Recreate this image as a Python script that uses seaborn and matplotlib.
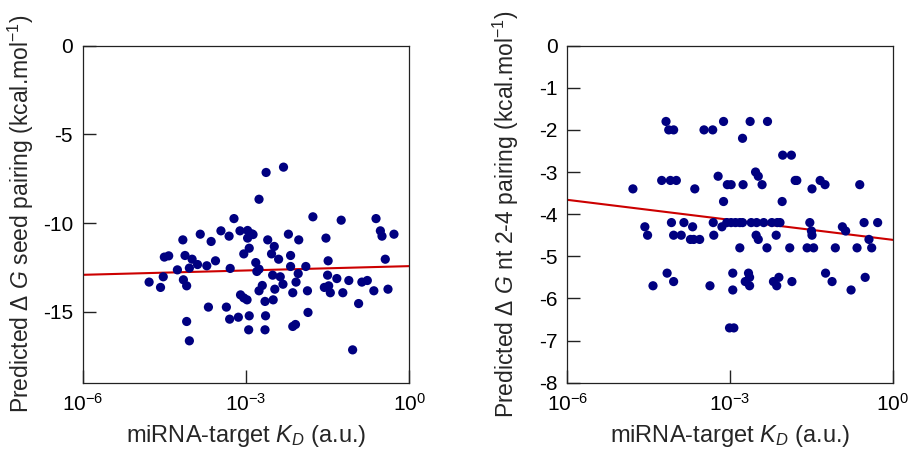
import numpy as np
import pandas as pd
import matplotlib
matplotlib.use("Agg")
import matplotlib.pyplot as plt
import seaborn as sns
from matplotlib.ticker import FixedLocator, FixedFormatter, NullLocator

# ---- data (log10 KD, predicted dG) ----
seed_logkd = [-4.78, -4.57, -4.52, -4.50, -4.42, -4.26, -4.16, -4.15, -4.12, -4.09,
              -4.09, -4.04, -4.04, -3.99, -3.89, -3.84, -3.72, -3.69, -3.64, -3.56,
              -3.46, -3.36, -3.31, -3.30, -3.29, -3.22, -3.14, -3.11, -3.10, -3.04,
              -3.04, -2.98, -2.97, -2.97, -2.94, -2.94, -2.95, -2.89, -2.87, -2.82,
              -2.80, -2.76, -2.76, -2.76, -2.70, -2.65, -2.65, -2.64, -2.63, -2.60,
              -2.53, -2.51, -2.50, -2.48, -2.47, -2.40, -2.37, -2.32, -2.31, -2.22,
              -2.18, -2.18, -2.14, -2.14, -2.09, -2.08, -2.04, -2.03, -1.90, -1.87,
              -1.86, -1.77, -1.56, -1.53, -1.50, -1.49, -1.48, -1.45, -1.33, -1.25,
              -1.22, -1.11, -1.04, -0.93, -0.87, -0.77, -0.65, -0.61, -0.53, -0.50,
              -0.44, -0.39, -0.28]
seed_dg = [-13.33, -13.63, -13.03, -11.92, -11.85, -12.64, -10.95, -13.20, -11.83, -13.54,
           -15.55, -16.64, -12.54, -12.04, -12.34, -10.63, -12.41, -14.74, -11.04, -12.13,
           -10.44, -14.74, -10.74, -15.42, -12.56, -9.75, -15.31, -10.44, -14.05, -14.22,
           -11.74, -14.33, -10.42, -10.85, -15.23, -11.42, -16.02, -10.61, -10.65, -12.23,
           -12.73, -8.66, -12.60, -13.82, -13.52, -14.42, -16.02, -15.23, -7.15, -10.95,
           -11.74, -12.94, -14.33, -11.32, -13.73, -12.04, -13.03, -13.45, -6.85, -10.63,
           -12.45, -11.83, -13.93, -15.83, -15.72, -13.33, -12.85, -10.95, -12.45, -13.82,
           -15.04, -9.65, -13.63, -10.85, -12.94, -12.13, -13.54, -13.93, -13.13, -9.84,
           -13.93, -13.24, -17.15, -14.54, -13.33, -13.24, -13.82, -9.75, -10.44, -10.74,
           -12.04, -13.73, -10.63]

nt_logkd = [-4.79, -4.57, -4.52, -4.42, -4.26, -4.18, -4.16, -4.13, -4.10, -4.08,
            -4.04, -4.04, -4.04, -3.99, -3.90, -3.85, -3.73, -3.69, -3.65, -3.67,
            -3.56, -3.48, -3.37, -3.32, -3.31, -3.30, -3.22, -3.15, -3.12, -3.12,
            -3.06, -3.05, -2.98, -2.98, -3.01, -2.93, -2.95, -2.95, -2.90, -2.82,
            -2.82, -2.77, -2.77, -2.76, -2.72, -2.66, -2.64, -2.64, -2.63, -2.61,
            -2.53, -2.52, -2.51, -2.48, -2.48, -2.41, -2.38, -2.32, -2.31, -2.23,
            -2.20, -2.15, -2.14, -2.13, -2.10, -2.08, -2.04, -2.03, -1.90, -1.87,
            -1.86, -1.80, -1.77, -1.58, -1.53, -1.50, -1.49, -1.49, -1.46, -1.34,
            -1.25, -1.24, -1.12, -1.06, -0.93, -0.87, -0.77, -0.66, -0.61, -0.53,
            -0.51, -0.44, -0.39, -0.28]
nt_dg = [-3.4, -4.3, -4.5, -5.7, -3.2, -1.8, -5.4, -2.0, -3.2, -4.2,
         -2.0, -5.6, -4.5, -3.2, -4.5, -4.2, -4.6, -4.3, -3.4, -4.6,
         -4.6, -2.0, -5.7, -2.0, -4.2, -4.5, -3.1, -4.3, -1.8, -3.7,
         -4.2, -3.3, -3.3, -4.2, -6.7, -6.7, -5.8, -5.4, -4.2, -4.8,
         -4.2, -4.2, -2.2, -3.3, -5.6, -5.4, -5.5, -5.7, -1.8, -4.2,
         -3.0, -4.5, -4.2, -3.1, -4.6, -3.3, -4.2, -4.8, -1.8, -4.2,
         -5.6, -4.5, -5.7, -4.2, -5.5, -4.2, -3.7, -2.6, -4.8, -2.6,
         -5.6, -3.2, -3.2, -4.8, -4.2, -4.4, -4.5, -3.4, -4.8, -3.2,
         -3.3, -5.4, -5.6, -4.8, -4.3, -4.4, -5.8, -4.8, -3.3, -4.2,
         -5.5, -4.6, -4.8, -4.2]

# fitted regression lines (value at KD = 1e-6 and 1e0)
fit_kd = [1e-6, 1e0]
seed_fit = [-12.92, -12.43]
nt_fit = [-3.66, -4.61]

x_ticks = [1e-6, 1e-3, 1e0]
x_ticklabels = ["10$^{-6}$", "10$^{-3}$", "10$^{0}$"]
seed_yticks = [0, -5, -10, -15]
nt_yticks = [0, -1, -2, -3, -4, -5, -6, -7, -8]

sns.set_theme(style="ticks")
plt.rcParams.update({
    "font.family": ["Liberation Sans", "DejaVu Sans"],
    "mathtext.fontset": "custom",
    "mathtext.rm": "Liberation Sans",
    "mathtext.it": "Liberation Sans:italic",
    "mathtext.bf": "Liberation Sans:bold",
    "axes.unicode_minus": False,
    "xtick.bottom": True, "ytick.left": True,
    "xtick.top": False, "ytick.right": False,
    "xtick.direction": "in", "ytick.direction": "in",
    "xtick.major.size": 9.5, "ytick.major.size": 9.5,
    "xtick.major.width": 1.0, "ytick.major.width": 1.0,
    "xtick.color": "#222222", "ytick.color": "#222222",
    "xtick.labelcolor": "black", "ytick.labelcolor": "black",
    "axes.axisbelow": False,
})

fig = plt.figure(figsize=(9.12, 4.5), dpi=100)
ax1 = fig.add_axes([0.0907, 0.1496, 0.358, 0.749])
ax2 = fig.add_axes([0.622, 0.1496, 0.357, 0.749])

navy = "#000080"
red = "#cc0000"

panels = [
    (ax1, seed_logkd, seed_dg, seed_fit, seed_yticks, (-19, 0),
     "Predicted $\\Delta$ $G$ seed pairing (kcal.mol$^{-1}$)"),
    (ax2, nt_logkd, nt_dg, nt_fit, nt_yticks, (-8, 0),
     "Predicted $\\Delta$ $G$ nt 2-4 pairing (kcal.mol$^{-1}$)"),
]

for ax, lkd, dg, fit, yt, ylim, ylab in panels:
    df = pd.DataFrame({"kd": np.power(10.0, lkd), "dg": dg})
    ax.set_xscale("log")
    sns.scatterplot(data=df, x="kd", y="dg", ax=ax, color=navy, s=44,
                    edgecolor="none", linewidth=0, zorder=3)
    fdf = pd.DataFrame({"kd": fit_kd, "dg": fit})
    sns.lineplot(data=fdf, x="kd", y="dg", ax=ax, color=red, linewidth=1.5, zorder=2)
    ax.set_xlim(1e-6, 1e0)
    ax.set_ylim(*ylim)
    ax.xaxis.set_major_locator(FixedLocator(x_ticks))
    ax.xaxis.set_major_formatter(FixedFormatter(x_ticklabels))
    ax.xaxis.set_minor_locator(NullLocator())
    ax.yaxis.set_minor_locator(NullLocator())
    ax.set_yticks(yt)
    ax.set_yticklabels([str(v) for v in yt])
    ax.tick_params(axis="both", which="major", direction="in", length=9.5,
                   width=1.0, color="#222222", labelcolor="black",
                   labelsize=15, pad=7,
                   left=True, bottom=True, top=False, right=False)
    ax.set_xlabel("miRNA-target $K_D$ (a.u.)", fontsize=17, labelpad=6)
    ax.set_ylabel(ylab, fontsize=16.5)
    ax.yaxis.set_label_coords(-0.143, 0.5)
    for side in ["left", "bottom", "top", "right"]:
        ax.spines[side].set_visible(True)
        ax.spines[side].set_linewidth(0.9)
        ax.spines[side].set_color("#222222")
    ax.grid(False)

fig.savefig("out.png", dpi=100)
